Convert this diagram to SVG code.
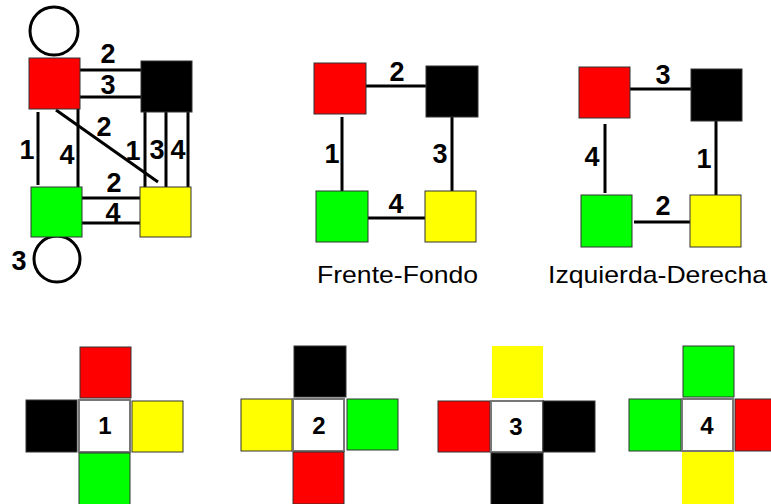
<svg xmlns="http://www.w3.org/2000/svg" width="771" height="504" viewBox="0 0 771 504">
<style>
.sq{stroke:#333;stroke-width:1}
.r{fill:#ff0000}.k{fill:#000}.g{fill:#00ff00}.y{fill:#ffff00}
.w{fill:#fff;stroke:#777;stroke-width:2}
.ln{stroke:#000;stroke-width:3;fill:none}
.lb{font-family:"Liberation Sans",Arial,sans-serif;font-weight:bold;font-size:27px;text-anchor:middle;fill:#000}
.cl{font-family:"Liberation Sans",Arial,sans-serif;font-weight:bold;font-size:24px;text-anchor:middle;fill:#000}
.cap{font-family:"Liberation Sans",Arial,sans-serif;font-size:24px;fill:#000}
</style>
<rect width="771" height="504" fill="#fff"/>

<!-- Graph 1 -->
<g id="connectors-1">
<circle class="ln" cx="54" cy="31" r="24" fill="#fff"/>
<circle class="ln" cx="57" cy="259" r="23" fill="#fff"/>
<line class="ln" x1="80" y1="70" x2="141" y2="70"/>
<line class="ln" x1="80" y1="97" x2="141" y2="97"/>
<line class="ln" x1="38" y1="112" x2="38" y2="185"/>
<line class="ln" x1="78" y1="109" x2="78" y2="187"/>
<line class="ln" x1="56" y1="110" x2="158" y2="182"/>
<line class="ln" x1="145" y1="112" x2="145" y2="187"/>
<line class="ln" x1="166" y1="112" x2="166" y2="187"/>
<line class="ln" x1="188" y1="112" x2="188" y2="187"/>
<line class="ln" x1="82" y1="198" x2="140" y2="198"/>
<line class="ln" x1="82" y1="223" x2="140" y2="223"/>
</g>
<g id="g1-red"><rect class="sq r" x="29" y="58" width="51" height="51"/></g>
<g id="g1-black"><rect class="sq k" x="141" y="61" width="51" height="51"/></g>
<g id="g1-green"><rect class="sq g" x="31" y="187" width="51" height="50"/></g>
<g id="g1-yellow"><rect class="sq y" x="140" y="187" width="51" height="50"/></g>
<g id="g1-labels">
<text class="lb" x="108" y="63">2</text>
<text class="lb" x="108" y="94">3</text>
<text class="lb" x="27" y="159">1</text>
<text class="lb" x="67" y="164">4</text>
<text class="lb" x="104" y="136">2</text>
<text class="lb" x="133" y="160">1</text>
<text class="lb" x="157" y="159">3</text>
<text class="lb" x="178" y="159">4</text>
<text class="lb" x="114" y="192">2</text>
<text class="lb" x="113" y="222">4</text>
<text class="lb" x="19" y="270">3</text>
</g>

<!-- Graph 2: Frente-Fondo -->
<g id="connectors-2">
<line class="ln" x1="366" y1="86" x2="426" y2="86"/>
<line class="ln" x1="342" y1="117" x2="342" y2="191"/>
<line class="ln" x1="452" y1="117" x2="452" y2="194"/>
<line class="ln" x1="368" y1="218" x2="427" y2="218"/>
</g>
<g id="g2-red"><rect class="sq r" x="314" y="63" width="52" height="51"/></g>
<g id="g2-black"><rect class="sq k" x="426" y="66" width="52" height="51"/></g>
<g id="g2-green"><rect class="sq g" x="316" y="191" width="52" height="51"/></g>
<g id="g2-yellow"><rect class="sq y" x="425" y="191" width="51" height="51"/></g>
<g id="g2-labels">
<text class="lb" x="397" y="81">2</text>
<text class="lb" x="332" y="163">1</text>
<text class="lb" x="440" y="163">3</text>
<text class="lb" x="396" y="213">4</text>
<text class="cap" x="317" y="283" textLength="161" lengthAdjust="spacingAndGlyphs">Frente-Fondo</text>
</g>

<!-- Graph 3: Izquierda-Derecha -->
<g id="connectors-3">
<line class="ln" x1="630" y1="89" x2="691" y2="89"/>
<line class="ln" x1="605" y1="124" x2="605" y2="193"/>
<line class="ln" x1="716" y1="121" x2="716" y2="198"/>
<line class="ln" x1="634" y1="222" x2="692" y2="222"/>
</g>
<g id="g3-red"><rect class="sq r" x="579" y="67" width="51" height="51"/></g>
<g id="g3-black"><rect class="sq k" x="691" y="69" width="51" height="52"/></g>
<g id="g3-green"><rect class="sq g" x="581" y="195" width="51" height="52"/></g>
<g id="g3-yellow"><rect class="sq y" x="690" y="195" width="51" height="52"/></g>
<g id="g3-labels">
<text class="lb" x="663" y="84">3</text>
<text class="lb" x="592" y="166">4</text>
<text class="lb" x="704" y="168">1</text>
<text class="lb" x="663" y="215">2</text>
<text class="cap" x="548" y="283" textLength="219" lengthAdjust="spacingAndGlyphs">Izquierda-Derecha</text>
</g>

<!-- Cross 1 -->
<g id="cross-1">
<rect class="sq r" x="80" y="347" width="51" height="51"/>
<rect class="sq k" x="26" y="400" width="51" height="52"/>
<rect class="w" x="79" y="400" width="51" height="52"/>
<rect class="sq y" x="132" y="401" width="51" height="51"/>
<rect class="sq g" x="79" y="453" width="51" height="52"/>
<text class="cl" x="105" y="434">1</text>
</g>
<!-- Cross 2 -->
<g id="cross-2">
<rect class="sq k" x="294" y="346" width="52" height="51"/>
<rect class="sq y" x="241" y="399" width="51" height="52"/>
<rect class="w" x="293" y="399" width="51" height="52"/>
<rect class="sq g" x="347" y="399" width="51" height="51"/>
<rect class="sq r" x="293" y="452" width="51" height="52"/>
<text class="cl" x="319" y="434">2</text>
</g>
<!-- Cross 3 -->
<g id="cross-3">
<rect class="y" x="492" y="346" width="51" height="52"/>
<rect class="sq r" x="438" y="401" width="52" height="51"/>
<rect class="w" x="491" y="401" width="52" height="51"/>
<rect class="sq k" x="543" y="401" width="52" height="51"/>
<rect class="sq k" x="491" y="453" width="52" height="52"/>
<text class="cl" x="516" y="435">3</text>
</g>
<!-- Cross 4 -->
<g id="cross-4">
<rect class="sq g" x="683" y="346" width="51" height="51"/>
<rect class="sq g" x="629" y="399" width="52" height="52"/>
<rect class="w" x="682" y="399" width="51" height="52"/>
<rect class="sq r" x="735" y="399" width="40" height="52"/>
<rect class="y" x="682" y="452" width="52" height="53"/>
<text class="cl" x="707" y="434">4</text>
</g>
</svg>
